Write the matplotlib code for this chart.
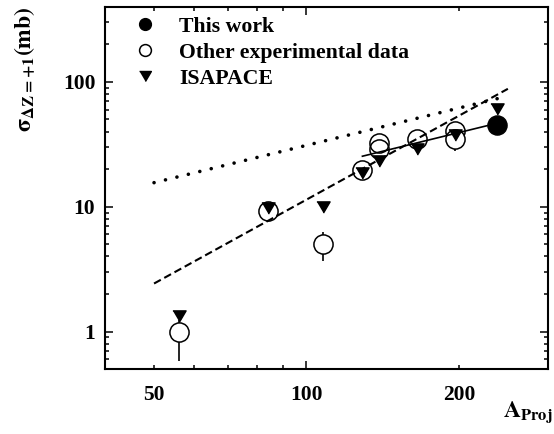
import matplotlib
matplotlib.use("Agg")
from matplotlib import pyplot as plt
from matplotlib.lines import Line2D
from matplotlib.ticker import NullFormatter

# values
this_A = [238]
this_sigma = [45.0]

other_A = [56, 84, 108, 129, 139, 139, 165, 197, 197]
other_sigma = [1.0, 9.2, 5.0, 19.6, 32.5, 29.1, 35.0, 40.3, 35.0]
other_err_low = [0.42, 0, 1.33, 0, 0, 0, 0, 0, 7.2]
other_err_high = [0.25, 0, 1.27, 0, 0, 0, 0, 0, 0]

isapace_A = [56, 84, 108, 129, 139, 165, 197, 238]
isapace_sigma = [1.33, 9.8, 9.9, 18.7, 23.2, 29.1, 37.9, 60.8]

dotted_A = [50, 250]
dotted_sigma = [15.6, 77.0]
dashed_A = [50, 250]
dashed_sigma = [2.43, 88.0]
solid_A = [129, 247]
solid_sigma = [25.4, 48.4]

plt.rcParams['font.family'] = ['Liberation Serif', 'DejaVu Serif']
plt.rcParams['font.weight'] = 'bold'
plt.rcParams['mathtext.fontset'] = 'stix'

tri = [(-1, 0.85), (1, 0.85), (0, -0.85)]

fig = plt.figure(figsize=(5.54, 4.34), dpi=100)
ax = fig.add_axes([0.1895, 0.1491, 0.7996, 0.8355])
ax.set_xscale('log')
ax.set_yscale('log')

# error bars (drawn below the circles)
for a, s, lo, hi in zip(other_A, other_sigma, other_err_low, other_err_high):
    if lo or hi:
        ax.errorbar([a], [s], yerr=[[lo], [hi]], fmt='none', ecolor='black',
                    elinewidth=1.2, capsize=0, zorder=1)

# open circles: white face where there is an error bar
for a, s, lo, hi in zip(other_A, other_sigma, other_err_low, other_err_high):
    face = 'white' if (lo or hi) else 'none'
    ax.plot([a], [s], 'o', ms=13.8, mfc=face, mec='black', mew=1.1, zorder=2)

ax.plot(dotted_A, dotted_sigma, color='black', lw=2.6,
        linestyle=(0, (0.01, 3.25)), dash_capstyle='round', zorder=3)
ax.plot(dashed_A, dashed_sigma, color='black', lw=1.5,
        linestyle=(0, (3.7, 1.9)), zorder=3)
ax.plot(solid_A, solid_sigma, color='black', lw=1.2, zorder=3)

ax.plot(isapace_A, isapace_sigma, linestyle='none', marker=tri, ms=9.5,
        color='black', zorder=4)
ax.plot(this_A, this_sigma, 'o', ms=13.8, color='black', zorder=4)

ax.set_xlim(40, 296)
ax.set_ylim(0.5, 400)

ax.set_xticks([100], labels=['100'])
ax.set_xticks([40, 50, 60, 70, 80, 90, 200, 300],
              labels=['', '50', '', '', '', '', '200', ''], minor=True)
ax.set_yticks([1, 10, 100], labels=['1', '10', '100'])
ax.yaxis.set_minor_formatter(NullFormatter())

ax.tick_params(which='both', direction='in', top=True, right=True,
               labelsize=15.5, width=1.1)
ax.tick_params(which='major', length=6)
ax.tick_params(which='minor', length=3)
ax.tick_params(axis='x', which='both', pad=11)
ax.tick_params(axis='y', which='both', pad=7)
for lab in ax.get_xticklabels(which='both') + ax.get_yticklabels():
    lab.set_fontweight('bold')
for sp in ax.spines.values():
    sp.set_linewidth(1.5)

handles = [
    Line2D([], [], linestyle='none', marker='o', ms=8.5, color='black'),
    Line2D([], [], linestyle='none', marker='o', ms=8.5, mfc='none',
           mec='black', mew=1.1),
    Line2D([], [], linestyle='none', marker=tri, ms=8.5, color='black'),
]
ax.legend(handles, ['This work', 'Other experimental data', 'ISAPACE'],
          loc='upper left', bbox_to_anchor=(0.071, 0.972), frameon=False,
          borderpad=0, borderaxespad=0, handlelength=0.8,
          handletextpad=1.15, labelspacing=0.26,
          prop={'size': 15.7, 'weight': 'bold'})

fig.text(0.045, 0.84, r'$\mathrm{\sigma}_{\mathbf{\Delta Z=+1}}\mathbf{(mb)}$',
         rotation=90, ha='center', va='center', fontsize=17)
fig.text(0.998, 0.05, r'$\mathbf{A_{Proj}}$', ha='right', va='center',
         fontsize=17)

fig.savefig('out.png', dpi=100)
